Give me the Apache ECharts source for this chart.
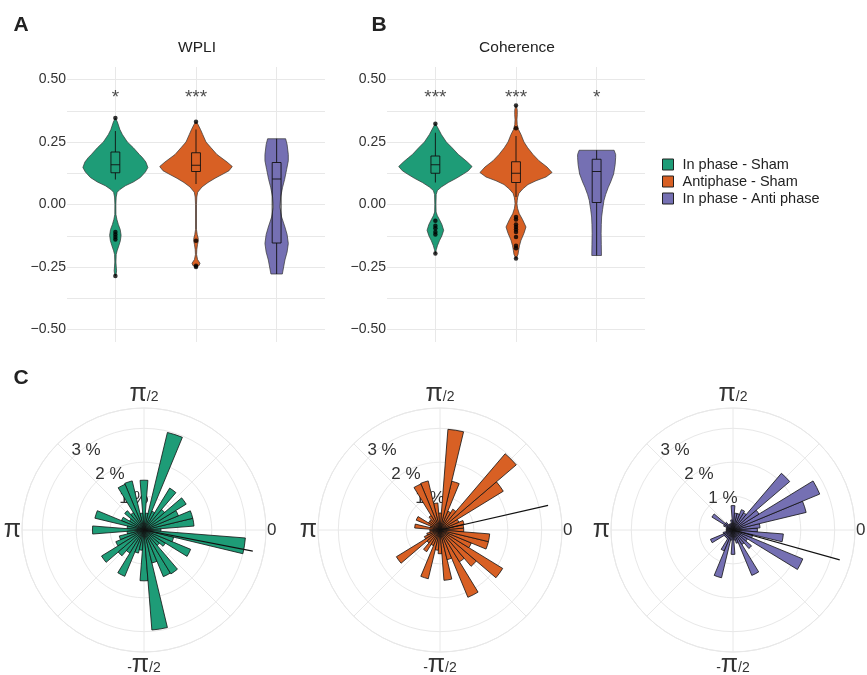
<!DOCTYPE html>
<html>
<head>
<meta charset="utf-8">
<script src="https://cdn.jsdelivr.net/npm/echarts@6/dist/echarts.min.js"></script>
<style>
  html, body { margin: 0; background: #fff; }
  #main { width: 867px; height: 675px; }
</style>
</head>
<body>
<div id="main"></div>
<script>
const FONT = '"Liberation Sans", Arial, Helvetica, sans-serif'

// ~~ Data

const groups = ['In phase - Sham', 'Antiphase - Sham', 'In phase - Anti phase']
const colors = ['#1e9c77', '#d86024', '#7570b3']
const groupX = [1, 2, 3]
const yTicks = [-0.5, -0.25, 0, 0.25, 0.5]
const yGrid = [-0.5, -0.375, -0.25, -0.125, 0, 0.125, 0.25, 0.375, 0.5]

// violin outlines: [value, half width in group units]
const wpliInSham = [[0.346, 0], [0.33, 0.025], [0.3, 0.056], [0.28, 0.087], [0.25, 0.149], [0.227, 0.223], [0.2, 0.298], [0.188, 0.335], [0.17, 0.378], [0.148, 0.403], [0.13, 0.372], [0.108, 0.31], [0.09, 0.223], [0.075, 0.124], [0.06, 0.056], [0.049, 0.022], [0.03, 0.01], [0, 0.006], [-0.04, 0.007], [-0.06, 0.019], [-0.08, 0.037], [-0.1, 0.06], [-0.123, 0.071], [-0.145, 0.062], [-0.165, 0.043], [-0.185, 0.022], [-0.2, 0.01], [-0.23, 0.007], [-0.25, 0.011], [-0.265, 0.015], [-0.278, 0.01], [-0.286, 0]]
const wpliAntiSham = [[0.331, 0], [0.32, 0.025], [0.3, 0.056], [0.28, 0.083], [0.25, 0.124], [0.227, 0.186], [0.2, 0.26], [0.188, 0.31], [0.17, 0.385], [0.152, 0.45], [0.135, 0.409], [0.122, 0.335], [0.105, 0.236], [0.088, 0.149], [0.07, 0.074], [0.049, 0.021], [0.03, 0.01], [0, 0.006], [-0.1, 0.006], [-0.12, 0.015], [-0.135, 0.027], [-0.145, 0.029], [-0.16, 0.019], [-0.18, 0.01], [-0.2, 0.007], [-0.22, 0.019], [-0.235, 0.05], [-0.245, 0.037], [-0.249, 0]]
const wpliInAnti = [[0.263, 0.112], [0.24, 0.13], [0.2, 0.145], [0.175, 0.145], [0.14, 0.124], [0.1, 0.099], [0.069, 0.074], [0.03, 0.05], [-0.01, 0.041], [-0.05, 0.062], [-0.09, 0.103], [-0.12, 0.13], [-0.156, 0.145], [-0.19, 0.13], [-0.222, 0.103], [-0.25, 0.087], [-0.278, 0.071]]

const cohInSham = [[0.323, 0], [0.31, 0.025], [0.28, 0.074], [0.25, 0.136], [0.227, 0.207], [0.2, 0.285], [0.188, 0.331], [0.17, 0.397], [0.152, 0.455], [0.135, 0.409], [0.122, 0.347], [0.105, 0.26], [0.088, 0.161], [0.07, 0.074], [0.056, 0.025], [0.04, 0.01], [0, 0.007], [-0.03, 0.009], [-0.045, 0.025], [-0.06, 0.05], [-0.08, 0.081], [-0.103, 0.103], [-0.125, 0.081], [-0.145, 0.05], [-0.165, 0.025], [-0.18, 0.012], [-0.196, 0]]
const cohAntiSham = [[0.396, 0], [0.38, 0.015], [0.36, 0.016], [0.34, 0.012], [0.32, 0.015], [0.3, 0.031], [0.28, 0.062], [0.25, 0.099], [0.227, 0.145], [0.2, 0.211], [0.175, 0.285], [0.15, 0.385], [0.128, 0.447], [0.11, 0.372], [0.095, 0.248], [0.08, 0.149], [0.062, 0.083], [0.045, 0.037], [0.029, 0.021], [0.015, 0.015], [0.003, 0.012], [-0.015, 0.019], [-0.037, 0.041], [-0.06, 0.081], [-0.09, 0.124], [-0.115, 0.099], [-0.143, 0.062], [-0.165, 0.043], [-0.183, 0.033], [-0.2, 0.025], [-0.216, 0]]
const cohInAnti = [[0.217, 0.217], [0.2, 0.236], [0.188, 0.236], [0.16, 0.23], [0.122, 0.211], [0.09, 0.174], [0.069, 0.145], [0.04, 0.112], [0.016, 0.091], [-0.02, 0.074], [-0.05, 0.062], [-0.08, 0.058], [-0.116, 0.056], [-0.16, 0.058], [-0.204, 0.06]]

// boxes: [lower whisker, q1, median, q3, upper whisker]
const wpliBoxes = [[0.1, 0.127, 0.159, 0.21, 0.294], [0.082, 0.132, 0.157, 0.207, 0.3], [-0.278, -0.154, 0.102, 0.168, 0.263]]
const cohBoxes = [[0.088, 0.125, 0.159, 0.194, 0.287], [0.03, 0.088, 0.125, 0.171, 0.274], [-0.204, 0.008, 0.132, 0.181, 0.217]]

const wpliOutliers = [[1, 0.346], [1, -0.11], [1, -0.12], [1, -0.13], [1, -0.14], [1, -0.286], [2, 0.331], [2, -0.145], [2, -0.245], [2, -0.25]]
const cohOutliers = [[1, 0.323], [1, -0.065], [1, -0.085], [1, -0.095], [1, -0.11], [1, -0.12], [1, -0.196],
  [2, 0.396], [2, 0.305], [2, -0.05], [2, -0.06], [2, -0.08], [2, -0.09], [2, -0.1], [2, -0.11], [2, -0.13], [2, -0.165], [2, -0.175], [2, -0.216]]

const wpliStars = ['*', '***', '']
const cohStars = ['***', '***', '*']

// phase histograms (% per 9 degree bin, bin centres in degrees)
const roseBins = ['0', '9', '18', '27', '36', '45', '54', '63', '72', '81', '90', '99', '108', '117', '126', '135', '144', '153', '162', '171',
  '180', '189', '198', '207', '216', '225', '234', '243', '252', '261', '270', '279', '288', '297', '306', '315', '324', '333', '342', '351']
const roseInSham = [0.5, 1.48, 1.48, 1.1, 1.46, 0.8, 1.45, 0.6, 2.96, 0.5, 1.47, 0.5, 1.49, 1.46, 0.6, 0.75, 0.5, 0.72, 1.49, 0.5,
  1.52, 0.5, 0.75, 0.9, 1.47, 1.0, 0.8, 1.48, 0.7, 0.6, 1.5, 2.96, 1.0, 1.49, 1.52, 0.6, 0.74, 1.49, 0.9, 3.0]
const roseAntiSham = [0.7, 0.7, 0.73, 0.6, 2.19, 2.96, 0.72, 0.6, 1.48, 2.98, 0.5, 0.8, 1.49, 1.47, 0.5, 0.4, 0.4, 0.76, 0.3, 0.75,
  0.3, 0.3, 0.4, 0.5, 1.51, 0.5, 0.75, 0.5, 1.48, 0.6, 0.7, 1.49, 0.9, 2.15, 1.1, 1.41, 2.17, 1.0, 1.47, 1.47]
const roseInAnti = [0.72, 0.8, 2.22, 2.77, 0.9, 2.2, 0.6, 0.65, 0.5, 0.5, 0.72, 0.3, 0.2, 0.2, 0.2, 0.3, 0.73, 0.3, 0.2, 0.2,
  0.2, 0.2, 0.3, 0.72, 0.3, 0.3, 0.3, 0.67, 1.45, 0.3, 0.72, 0.3, 0.4, 1.45, 0.5, 0.72, 0.5, 2.23, 0.6, 1.49]
const meanAngles = [-11, 12.8, -15.6]
const meanLengths = [3.27, 3.27, 3.27]
const radiusTicks = [1, 2, 3]

// ~~ Layout

const roseCenters = [144, 440, 733]
const GRID = '#e8e8e8'

const violinSeries = function (gi, gidx, outline, box) {
  return {
    type: 'custom',
    name: groups[gidx],
    xAxisIndex: gi,
    yAxisIndex: gi,
    color: colors[gidx],
    data: [[groupX[gidx], box[2]]],
    z: 2,
    silent: true,
    renderItem: (params, api) => {
      const cx = api.value(0)
      const pts = outline.map((p) => api.coord([cx + p[1], p[0]]))
      for (let k = outline.length - 1; k >= 0; k--) pts.push(api.coord([cx - outline[k][1], outline[k][0]]))
      const hw = 0.055
      const c = (dx, v) => api.coord([cx + dx, v])
      const line = (a, b) => ({ type: 'line', shape: { x1: a[0], y1: a[1], x2: b[0], y2: b[1] }, style: { stroke: '#111', lineWidth: 0.9 } })
      const lo = c(-hw, box[1])
      const hi = c(hw, box[3])
      return {
        type: 'group',
        children: [
          { type: 'polygon', shape: { points: pts }, style: { fill: colors[gidx], stroke: '#333', lineWidth: 0.7 } },
          line(c(0, box[0]), c(0, box[1])),
          line(c(0, box[3]), c(0, box[4])),
          { type: 'rect', shape: { x: lo[0], y: hi[1], width: hi[0] - lo[0], height: lo[1] - hi[1] }, style: { fill: 'none', stroke: '#111', lineWidth: 0.9 } },
          line(c(-hw, box[2]), c(hw, box[2])),
        ],
      }
    },
  }
}

const series = []
;[
  [wpliInSham, wpliAntiSham, wpliInAnti],
  [cohInSham, cohAntiSham, cohInAnti],
].forEach((outlines, gi) => {
  const boxes = gi === 0 ? wpliBoxes : cohBoxes
  outlines.forEach((o, k) => series.push(violinSeries(gi, k, o, boxes[k])))
  series.push({
    type: 'scatter',
    xAxisIndex: gi,
    yAxisIndex: gi,
    data: gi === 0 ? wpliOutliers : cohOutliers,
    symbolSize: 4.5,
    itemStyle: { color: '#000' },
    z: 4,
    silent: true,
  })
  const stars = gi === 0 ? wpliStars : cohStars
  series.push({
    type: 'scatter',
    xAxisIndex: gi,
    yAxisIndex: gi,
    data: groupX.map((x, k) => [x, 0.425, stars[k]]),
    symbolSize: 0,
    silent: true,
    label: { show: true, position: 'inside', formatter: (p) => p.value[2], fontSize: 19, color: '#222', fontFamily: FONT },
  })
})

const roses = [roseInSham, roseAntiSham, roseInAnti]
const polar = []
const angleAxis = []
const radiusAxis = []
const angleLabels = { 0: '{n|0}', 90: '{p|π}{s|/2}', 180: '{p|π}', 270: '{s|-}{p|π}{s|/2}' }

roses.forEach((vals, i) => {
  const center = [roseCenters[i], 530]
  polar.push({ center, radius: 122 }, { center, radius: 122 }, { center, radius: 122 })

  angleAxis.push(
    {
      polarIndex: 3 * i, type: 'category', data: roseBins, startAngle: -4.5, clockwise: false, boundaryGap: true,
      axisLine: { show: false }, axisTick: { show: false }, axisLabel: { show: false }, splitLine: { show: false },
    },
    {
      polarIndex: 3 * i + 1, type: 'value', min: 0, max: 360, interval: 45, startAngle: 0, clockwise: false,
      axisLine: { lineStyle: { color: GRID, width: 1 } },
      axisTick: { show: false },
      splitLine: { lineStyle: { color: GRID, width: 1 } },
      axisLabel: {
        margin: 1,
        color: '#333',
        fontFamily: FONT,
        formatter: (v) => angleLabels[v] || '',
        rich: {
          p: { fontSize: 25, fontFamily: FONT, color: '#333' },
          s: { fontSize: 14, fontFamily: FONT, color: '#333', padding: [6, 0, 0, 0] },
          n: { fontSize: 17, fontFamily: FONT, color: '#333' },
        },
      },
    },
    { polarIndex: 3 * i + 2, type: 'value', min: 0, max: 360, startAngle: 135, clockwise: false, show: false }
  )

  radiusAxis.push(
    { polarIndex: 3 * i, type: 'value', min: 0, max: 3.6, show: false },
    {
      polarIndex: 3 * i + 1, type: 'value', min: 0, max: 3.6, interval: 1,
      axisLine: { show: false }, axisTick: { show: false }, axisLabel: { show: false },
      splitLine: { lineStyle: { color: GRID, width: 1 } },
    },
    {
      polarIndex: 3 * i + 2, type: 'value', min: 0, max: 3.6, interval: 1,
      axisLine: { show: false }, axisTick: { show: false }, splitLine: { show: false },
      axisLabel: {
        formatter: (v) => (radiusTicks.includes(v) ? v + ' %' : ''),
        showMaxLabel: false,
        align: 'left',
        verticalAlign: 'bottom',
        margin: 1,
        fontSize: 17,
        color: '#333',
        fontFamily: FONT,
      },
    }
  )

  series.push({
    type: 'bar',
    name: groups[i],
    coordinateSystem: 'polar',
    polarIndex: 3 * i,
    data: vals,
    barCategoryGap: '0%',
    itemStyle: { color: colors[i], borderColor: '#111', borderWidth: 0.8 },
    z: 3,
    silent: true,
  })

  const a = (meanAngles[i] + 360) % 360
  series.push({
    type: 'line',
    coordinateSystem: 'polar',
    polarIndex: 3 * i + 1,
    data: [[0, a], [meanLengths[i], a]],
    symbol: 'none',
    lineStyle: { color: '#111', width: 1.2 },
    z: 5,
    silent: true,
  })
})

const valueAxisX = (gi) => ({
  gridIndex: gi, type: 'value', min: 0.4, max: 3.6,
  axisLine: { show: false }, axisLabel: { show: false },
  axisTick: { show: false, customValues: groupX },
  splitLine: { show: true, lineStyle: { color: GRID, width: 1 } },
})

const valueAxisY = (gi) => ({
  gridIndex: gi, type: 'value', min: -0.55, max: 0.55,
  axisLine: { show: false },
  axisTick: { show: false, customValues: yGrid },
  axisLabel: {
    customValues: yTicks,
    formatter: (v) => v.toFixed(2).replace('-', '\u2212'),
    fontSize: 14,
    color: '#333',
    margin: 1,
    fontFamily: FONT,
  },
  splitLine: { show: true, lineStyle: { color: GRID, width: 1 } },
})

const text = (x, y, s, size, weight) => ({
  type: 'text', x, y, silent: true,
  style: { text: s, fontSize: size, fontWeight: weight || 'normal', fontFamily: FONT, fill: '#222', align: 'center', verticalAlign: 'middle' },
})

const option = {
  backgroundColor: '#fff',
  animation: false,
  textStyle: { fontFamily: FONT },
  grid: [
    { left: 67, top: 67, width: 258, height: 275 },
    { left: 387, top: 67, width: 258, height: 275 },
  ],
  xAxis: [valueAxisX(0), valueAxisX(1)],
  yAxis: [valueAxisY(0), valueAxisY(1)],
  polar,
  angleAxis,
  radiusAxis,
  legend: {
    orient: 'vertical',
    left: 662,
    top: 157,
    padding: 0,
    itemWidth: 11,
    itemHeight: 11,
    itemGap: 2,
    selectedMode: false,
    textStyle: { fontSize: 14.5, color: '#222', fontFamily: FONT, padding: [0, 0, 0, 4] },
    data: groups.map((g, k) => ({ name: g, icon: 'rect', itemStyle: { color: colors[k], borderColor: '#222', borderWidth: 1 } })),
  },
  graphic: [
    text(21, 25, 'A', 21, 'bold'),
    text(379, 25, 'B', 21, 'bold'),
    text(21, 378, 'C', 21, 'bold'),
    text(197, 48, 'WPLI', 15.5),
    text(517, 48, 'Coherence', 15.5),
  ],
  series,
}

const chart = echarts.init(document.getElementById('main'), null, { renderer: 'canvas' })
chart.setOption(option)
</script>
</body>
</html>
